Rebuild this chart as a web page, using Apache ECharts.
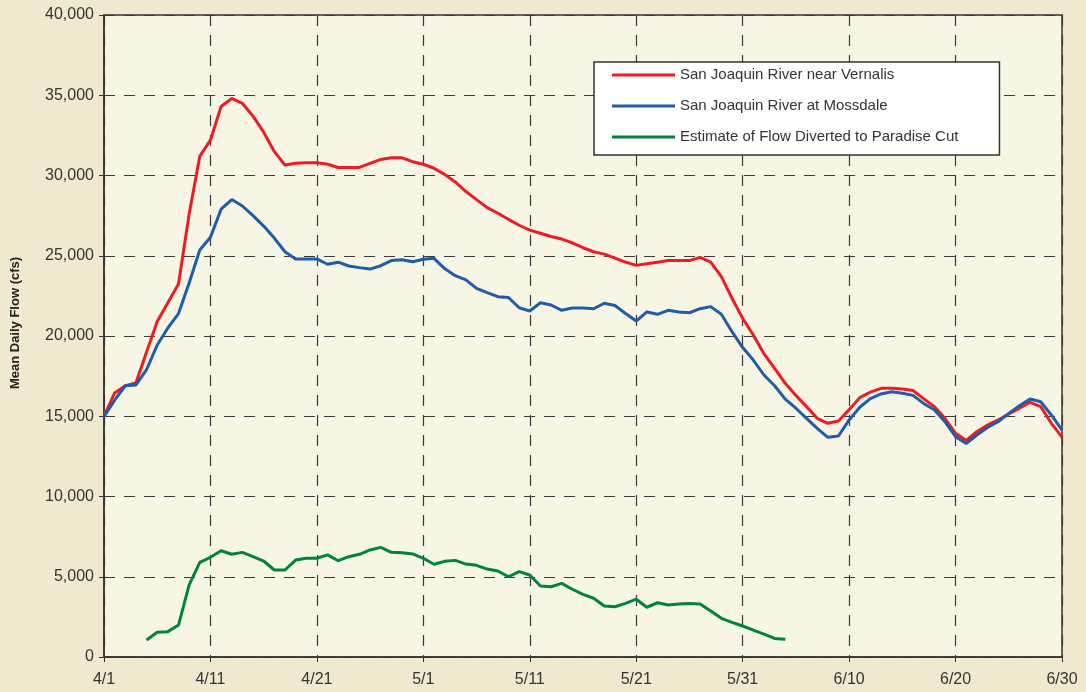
<!DOCTYPE html>
<html>
<head>
<meta charset="utf-8">
<title>San Joaquin River Mean Daily Flow</title>
<script src="https://cdn.jsdelivr.net/npm/echarts@6/dist/echarts.min.js"></script>
<style>
	html, body { margin: 0; padding: 0; background: #f0e9cf; }
	#chart { width: 1086px; height: 692px; }
</style>
</head>
<body>
<div id="chart"></div>
<script>
// months shown on the x axis: [month, days]
const months = [[4, 30], [5, 31], [6, 30]]
const days = []
months.forEach(([m, n]) => {
	for (let d = 1; d <= n; d++) days.push(m + '/' + d)
})

const seriesNames = [
	'San Joaquin River near Vernalis',
	'San Joaquin River at Mossdale',
	'Estimate of Flow Diverted to Paradise Cut'
]

// mean daily flow, cfs, 4/1 .. 6/30
const vernalis = [
	15000, 16450, 16900, 17070, 19000, 20900, 22070, 23240, 27600, 31200,
	32200, 34300, 34800, 34500, 33700, 32700, 31500, 30650, 30760, 30800,
	30800, 30700, 30500, 30500, 30500, 30760, 31000, 31100, 31100, 30860,
	30700, 30450, 30070, 29600, 29000, 28500, 28000, 27650, 27270, 26900,
	26600, 26400, 26200, 26040, 25800, 25500, 25250, 25100, 24850, 24600,
	24400, 24500, 24600, 24700, 24700, 24700, 24900, 24600, 23700, 22350,
	21100, 20060, 18900, 17990, 17050, 16300, 15600, 14870, 14560, 14700,
	15400, 16160, 16500, 16740, 16740, 16700, 16600, 16100, 15600, 14870,
	13940, 13500, 14040, 14450, 14770, 15140, 15500, 15870, 15600, 14560,
	13700
]

const mossdale = [
	14970, 16000, 16900, 16950, 17900, 19440, 20500, 21400, 23300, 25360,
	26150, 27900, 28500, 28100, 27500, 26850, 26100, 25250, 24800, 24800,
	24800, 24470, 24600, 24360, 24260, 24170, 24380, 24700, 24750, 24630,
	24780, 24840, 24200, 23760, 23500, 22970, 22700, 22450, 22400, 21760,
	21560, 22070, 21930, 21600, 21740, 21740, 21700, 22040, 21900, 21400,
	20930, 21500, 21350, 21600, 21500, 21450, 21700, 21830, 21350, 20270,
	19280, 18500, 17570, 16900, 16070, 15500, 14870, 14250, 13690, 13770,
	14770, 15560, 16100, 16390, 16530, 16430, 16300, 15800, 15400, 14660,
	13730, 13300, 13830, 14300, 14660, 15180, 15660, 16070, 15900, 15080,
	14140
]

// diverted flow, only estimated 4/5 .. 6/4
const paradiseCut = [
	null, null, null, null, 1060, 1540, 1580, 1990, 4490, 5900,
	6210, 6620, 6400, 6520, 6250, 5980, 5420, 5420, 6040, 6150,
	6150, 6360, 6000, 6250, 6400, 6670, 6830, 6520, 6500, 6420,
	6150, 5780, 5960, 6020, 5790, 5710, 5480, 5360, 5000, 5320,
	5110, 4420, 4380, 4590, 4220, 3900, 3660, 3180, 3130, 3340,
	3600, 3100, 3380, 3240, 3300, 3340, 3300, 2870, 2410, 2160,
	1930, 1680, 1430, 1160, 1100
]

const colors = ['#ed1c24', '#1f5cab', '#00843d']

const font = 'Liberation Sans, Arial, sans-serif'
const gridLine = { show: true, lineStyle: { color: '#3a3a3a', width: 1.2, type: [11, 9] } }

const chart = echarts.init(document.getElementById('chart'))

chart.setOption({
	backgroundColor: '#f0e9cf',
	animation: false,
	grid: {
		show: true,
		left: 104,
		right: 24,
		top: 15,
		bottom: 35,
		backgroundColor: '#f7f5e3',
		borderColor: '#333',
		borderWidth: 1.5
	},
	legend: {
		orient: 'vertical',
		left: 594,
		top: 62,
		backgroundColor: '#fff',
		borderColor: '#333',
		borderWidth: 1.5,
		borderRadius: 0,
		padding: [4, 41, 9, 18],
		itemGap: 13,
		itemWidth: 63,
		itemHeight: 3,
		icon: 'rect',
		textStyle: { fontFamily: font, fontSize: 15, color: '#333', lineHeight: 18 },
		data: seriesNames
	},
	xAxis: {
		type: 'category',
		data: days,
		boundaryGap: false,
		axisLine: { lineStyle: { color: '#333', width: 1.5 } },
		axisTick: { show: true, interval: 9, length: 5, lineStyle: { color: '#333' } },
		axisLabel: { interval: 9, margin: 15, fontFamily: font, fontSize: 16, color: '#333' },
		splitLine: Object.assign({ interval: 9 }, gridLine)
	},
	yAxis: {
		type: 'value',
		min: 0,
		max: 40000,
		interval: 5000,
		name: 'Mean Daily Flow (cfs)',
		nameLocation: 'middle',
		nameGap: 82,
		nameTextStyle: {
			fontFamily: font,
			fontSize: 13,
			fontWeight: 'bold',
			color: '#222',
			padding: [0, 0, 0, 26]
		},
		axisLine: { show: true, lineStyle: { color: '#333', width: 1.5 } },
		axisTick: { show: true, length: 5, lineStyle: { color: '#333' } },
		axisLabel: {
			margin: 10,
			fontFamily: font,
			fontSize: 16,
			color: '#333',
			formatter: v => v.toLocaleString('en-US')
		},
		splitLine: gridLine
	},
	series: [vernalis, mossdale, paradiseCut].map((data, i) => ({
		name: seriesNames[i],
		type: 'line',
		data: data,
		showSymbol: false,
		color: colors[i],
		lineStyle: { color: colors[i], width: 3 }
	}))
})
</script>
</body>
</html>
